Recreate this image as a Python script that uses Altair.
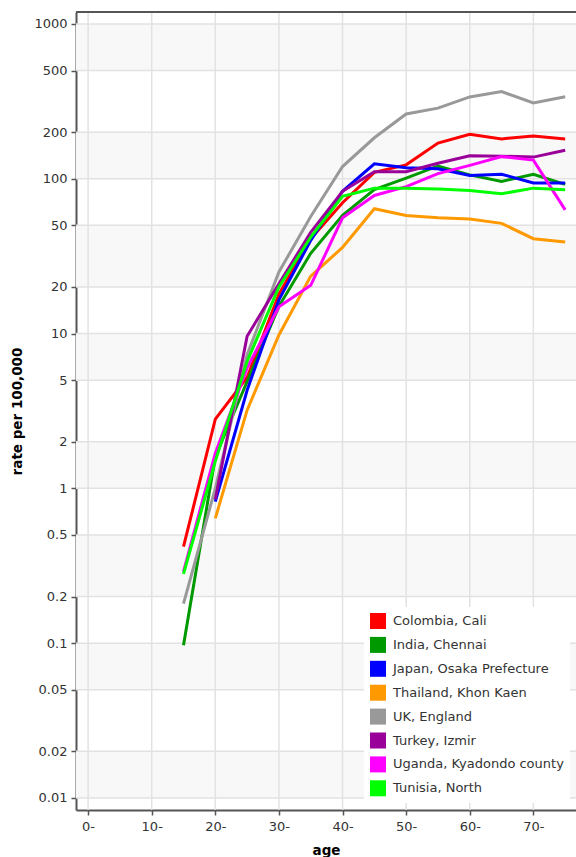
import altair as alt
import pandas as pd

ages = [15, 20, 25, 30, 35, 40, 45, 50, 55, 60, 65, 70, 75]

colombia = [0.42, 2.8, 5.2, 18, 41, 70, 110, 123, 170, 194, 181, 189, 181]
india = [0.097, 1.6, 4.9, 15, 33, 58, 85, 101, 121, 106, 96, 107, 92]
japan = [None, 0.82, 4.3, 16.5, 40, 83, 125, 118, 116, 105, 107, 94, 94]
thailand = [None, 0.64, 3.2, 9.8, 23.5, 36, 64, 58, 56, 55, 51.5, 41, 39]
uk = [0.18, 1.0, 7.3, 25, 57, 120, 184, 262, 286, 338, 366, 309, 339]
turkey = [None, 0.85, 9.6, 21, 45, 83, 111, 111, 126, 141, 140, 138, 153]
uganda = [0.29, 1.69, 6.0, 14.9, 20.5, 56, 78, 89, 108, 122, 139, 132, 63]
tunisia = [0.28, 1.5, 6.6, 20, 42, 77, 87, 87, 86, 84, 80, 87, 85]

names = ["Colombia, Cali", "India, Chennai", "Japan, Osaka Prefecture",
         "Thailand, Khon Kaen", "UK, England", "Turkey, Izmir",
         "Uganda, Kyadondo county", "Tunisia, North"]
series = [colombia, india, japan, thailand, uk, turkey, uganda, tunisia]
colors = ["#ff0000", "#009900", "#0000ff", "#ff9900", "#999999",
          "#990099", "#ff00ff", "#00ff00"]

x_ticks = [0, 10, 20, 30, 40, 50, 60, 70]
y_ticks = [0.01, 0.02, 0.05, 0.1, 0.2, 0.5, 1, 2, 5, 10, 20, 50, 100, 200, 500, 1000]
band_lo = [500, 100, 20, 5, 1, 0.2, 0.05, 0.01]
band_hi = [1000, 200, 50, 10, 2, 0.5, 0.1, 0.02]

rows = []
for i, (name, vals) in enumerate(zip(names, series)):
    for a, v in zip(ages, vals):
        if v is not None:
            rows.append({"site": name, "age": a, "rate": v, "idx": i})
df = pd.DataFrame(rows)

bands_df = pd.DataFrame({"lo": band_lo, "hi": band_hi})
ytick_df = pd.DataFrame({"v": y_ticks})
xtick_df = pd.DataFrame({"v": x_ticks})
one_df = pd.DataFrame({"k": [0]})

W, H = 500, 798
xs = alt.Scale(domain=[-1.9, 76.7], nice=False, zero=False)
ys = alt.Scale(type="log", domain=[0.00836, 1195], nice=False)

ax_x = alt.Axis(title="age", values=x_ticks, labelExpr="datum.value + '-'",
                labelPadding=5, titlePadding=10, grid=False)
ax_y = alt.Axis(title="rate per 100,000", values=y_ticks, format="~g",
                labelPadding=4, titlePadding=9, grid=False)

legend = alt.Legend(
    title=None, orient="none", legendX=288, legendY=595,
    symbolType="square", symbolSize=256, symbolStrokeWidth=0,
    symbolOpacity=1, labelFont="DejaVu Sans", labelFontSize=13,
    labelColor="#333333", rowPadding=7.9, padding=6, fillColor="white",
    labelOffset=7, labelLimit=400,
)
color = alt.Color("site:N", scale=alt.Scale(domain=names, range=colors),
                  legend=legend)

dummy = alt.Chart(df).mark_square(filled=True, opacity=0, size=1).encode(
    x=alt.X("age:Q", scale=xs, axis=ax_x),
    y=alt.Y("rate:Q", scale=ys, axis=ax_y),
    color=color,
)

bands = alt.Chart(bands_df).mark_rect(color="#f8f8f8").encode(
    y=alt.Y("lo:Q", scale=ys, axis=ax_y),
    y2="hi:Q",
    x=alt.value(0),
    x2=alt.value(W),
)

vgrid = alt.Chart(xtick_df).mark_rule(color="#e2e2e2", strokeWidth=1.5).encode(
    x=alt.X("v:Q", scale=xs, axis=ax_x)
)
hgrid = alt.Chart(ytick_df).mark_rule(color="#e2e2e2", strokeWidth=1.5).encode(
    y=alt.Y("v:Q", scale=ys, axis=ax_y)
)

lines = alt.Chart(df).mark_line(strokeWidth=3).encode(
    x=alt.X("age:Q", scale=xs, axis=ax_x),
    y=alt.Y("rate:Q", scale=ys, axis=ax_y),
    color=color,
    order=alt.Order("age:Q"),
)

top = alt.Chart(one_df).mark_rule(color="#555555", strokeWidth=2).encode(
    y=alt.value(0), x=alt.value(0), x2=alt.value(W)
)

chart = alt.layer(dummy, bands, vgrid, hgrid, lines, top).properties(
    width=W, height=H,
    padding={"left": 76, "top": 12, "right": 0, "bottom": 47},
    autosize=alt.AutoSizeParams(type="none"),
).configure_view(stroke=None).configure_axis(
    domainColor="#555555", domainWidth=2, tickColor="#555555",
    tickWidth=1.5, tickSize=5, labelFont="DejaVu Sans", labelFontSize=13,
    labelColor="#333333", titleFont="DejaVu Sans", titleFontWeight="bold",
    titleFontSize=13.5, titleColor="#000000",
)

chart.save("out.html", embed_options={"renderer": "svg", "actions": False})
